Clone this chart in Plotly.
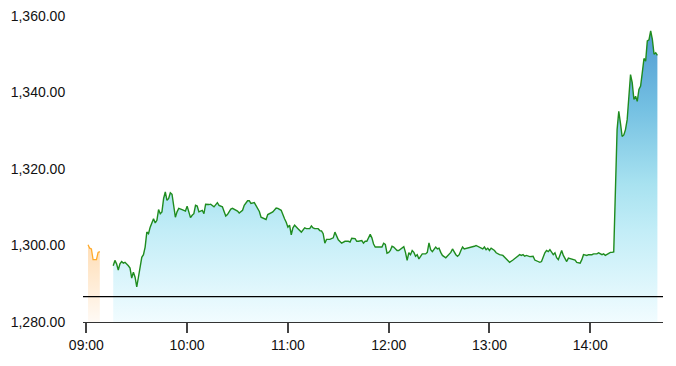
import plotly.graph_objects as go

DAY = "2024-01-02 "

# Pre-open (orange) segment
pre_times = ["09:01", "09:02", "09:03", "09:04", "09:05", "09:06", "09:07", "09:08"]
pre_prices = [1300.2, 1299.3, 1299.1, 1296.3, 1296.3, 1296.3, 1298.2, 1298.4]

# Main session (green) segment
times = [
    "09:16", "09:17", "09:18", "09:19", "09:20", "09:21", "09:22", "09:23", "09:25", "09:26",
    "09:27", "09:28", "09:29", "09:30", "09:31", "09:32", "09:33", "09:34", "09:35", "09:36",
    "09:37", "09:38", "09:39", "09:40", "09:41", "09:42", "09:43", "09:44", "09:45", "09:46",
    "09:47", "09:48", "09:49", "09:50", "09:51", "09:52", "09:53", "09:54", "09:55", "09:57",
    "09:59", "10:00", "10:01", "10:02", "10:03", "10:04", "10:05", "10:06", "10:07", "10:09",
    "10:10", "10:11", "10:13", "10:14", "10:16", "10:18", "10:19", "10:21", "10:22", "10:23",
    "10:24", "10:26", "10:27", "10:29", "10:30", "10:31", "10:33", "10:34", "10:36", "10:37",
    "10:38", "10:40", "10:41", "10:42", "10:43", "10:44", "10:45", "10:47", "10:48", "10:49",
    "10:51", "10:53", "10:54", "10:56", "10:57", "10:58", "10:59", "11:00", "11:01", "11:02",
    "11:03", "11:04", "11:06", "11:07", "11:08", "11:10", "11:11", "11:13", "11:14", "11:15",
    "11:16", "11:18", "11:19", "11:20", "11:21", "11:22", "11:23", "11:25", "11:26", "11:27",
    "11:28", "11:29", "11:30", "11:32", "11:33", "11:34", "11:36", "11:37", "11:38", "11:40",
    "11:41", "11:42", "11:44", "11:45", "11:46", "11:47", "11:49", "11:50", "11:51", "11:52",
    "11:54", "11:55", "11:56", "11:57", "11:58", "11:59", "12:00", "12:01", "12:02", "12:03",
    "12:05", "12:06", "12:07", "12:09", "12:10", "12:11", "12:12", "12:13", "12:14", "12:15",
    "12:16", "12:17", "12:18", "12:19", "12:20", "12:22", "12:23", "12:24", "12:25", "12:26",
    "12:27", "12:28", "12:29", "12:30", "12:31", "12:32", "12:34", "12:35", "12:36", "12:37",
    "12:38", "12:39", "12:40", "12:41", "12:42", "12:43", "12:44", "12:45", "12:47", "12:49",
    "12:51", "12:52", "12:54", "12:55", "12:56", "12:57", "12:58", "12:59", "13:00", "13:01",
    "13:03", "13:04", "13:06", "13:08", "13:09", "13:11", "13:12", "13:14", "13:15", "13:16",
    "13:18", "13:19", "13:20", "13:21", "13:22", "13:24", "13:26", "13:27", "13:29", "13:30",
    "13:31", "13:32", "13:33", "13:34", "13:35", "13:36", "13:37", "13:38", "13:39", "13:40",
    "13:41", "13:43", "13:44", "13:45", "13:46", "13:47", "13:49", "13:51", "13:52", "13:54",
    "13:55", "13:56", "13:58", "13:59", "14:01", "14:02", "14:04", "14:05", "14:07", "14:08",
    "14:09", "14:11", "14:12", "14:13", "14:14", "14:16", "14:17", "14:18", "14:19", "14:20",
    "14:21", "14:22", "14:23", "14:24", "14:25", "14:26", "14:27", "14:28", "14:29", "14:30",
    "14:31", "14:32", "14:33", "14:34", "14:35", "14:36", "14:37", "14:38", "14:39", "14:40",
]
prices = [
    1294.7, 1296.1, 1295.2, 1293.6, 1295.2, 1295.8, 1295.4, 1295.6, 1294.7, 1294.1,
    1291.5, 1293.0, 1291.7, 1289.2, 1291.7, 1294.7, 1296.9, 1297.6, 1299.6, 1303.5,
    1303.1, 1304.8, 1305.7, 1307.0, 1305.9, 1306.6, 1309.4, 1308.3, 1308.8, 1312.3,
    1314.0, 1311.8, 1312.3, 1313.8, 1313.4, 1310.5, 1307.4, 1308.8, 1309.7, 1309.4,
    1309.0, 1310.3, 1308.8, 1307.3, 1307.9, 1308.3, 1310.5, 1310.3, 1308.8, 1309.2,
    1308.3, 1310.8, 1310.7, 1310.8, 1310.1, 1311.2, 1310.5, 1310.1, 1308.9, 1307.7,
    1308.1, 1309.5, 1309.7, 1309.3, 1309.0, 1308.5, 1309.2, 1310.5, 1311.7, 1311.7,
    1311.0, 1311.2, 1310.3, 1309.7, 1308.9, 1307.4, 1307.2, 1306.8, 1308.1, 1308.3,
    1308.8, 1309.8, 1309.7, 1309.2, 1307.9, 1307.0, 1306.1, 1304.8, 1305.3, 1302.8,
    1304.6, 1305.3, 1304.4, 1303.9, 1303.5, 1304.6, 1304.4, 1304.4, 1305.1, 1304.6,
    1304.4, 1304.4, 1303.9, 1303.8, 1303.1, 1300.6, 1301.6, 1301.6, 1301.9, 1302.0,
    1303.5, 1302.6, 1301.5, 1300.6, 1300.9, 1301.1, 1301.1, 1300.9, 1301.9, 1301.8,
    1301.1, 1301.1, 1301.3, 1300.6, 1301.1, 1301.1, 1302.9, 1302.0, 1300.4, 1299.6,
    1299.6, 1299.7, 1299.6, 1300.6, 1300.3, 1298.0, 1298.2, 1298.7, 1299.8, 1299.6,
    1298.7, 1298.7, 1299.1, 1299.7, 1298.2, 1296.1, 1298.1, 1297.6, 1298.7, 1298.2,
    1297.2, 1297.6, 1296.5, 1297.2, 1297.8, 1297.8, 1298.2, 1300.7, 1298.9, 1298.4,
    1299.1, 1299.6, 1299.1, 1299.3, 1298.2, 1297.4, 1296.8, 1297.2, 1297.6, 1298.2,
    1299.1, 1298.2, 1297.6, 1297.2, 1297.6, 1298.7, 1299.6, 1299.1, 1299.3, 1299.6,
    1299.8, 1300.0, 1299.6, 1299.3, 1299.1, 1299.6, 1298.9, 1299.3, 1298.7, 1299.3,
    1298.7, 1298.1, 1297.6, 1297.4, 1296.9, 1296.1, 1295.6, 1296.2, 1296.5, 1296.9,
    1297.6, 1297.4, 1297.6, 1297.2, 1297.4, 1297.1, 1297.2, 1296.2, 1295.8, 1295.6,
    1295.8, 1297.2, 1298.1, 1298.7, 1298.4, 1298.9, 1298.2, 1297.6, 1298.1, 1296.8,
    1296.3, 1298.7, 1297.4, 1296.5, 1295.8, 1296.7, 1296.5, 1296.2, 1295.6, 1295.4,
    1296.3, 1297.6, 1297.4, 1297.6, 1297.6, 1297.8, 1297.8, 1298.1, 1297.6, 1297.8,
    1297.4, 1298.1, 1298.2, 1298.2, 1298.3, 1330.3, 1335.1, 1332.0, 1328.5, 1328.9,
    1330.3, 1332.9, 1339.0, 1344.7, 1342.6, 1338.2, 1339.0, 1337.7, 1340.8, 1341.7,
    1345.2, 1348.9, 1348.2, 1353.5, 1353.8, 1356.1, 1353.9, 1350.0, 1350.4, 1349.7,
]

ref_line = 1286.65
y_ticks = [1280, 1300, 1320, 1340, 1360]
x_ticks = ["09:00", "10:00", "11:00", "12:00", "13:00", "14:00"]
x_range = ["08:58", "14:43:20"]
y_range = [1280, 1360]

fig = go.Figure()

fig.add_trace(go.Scatter(
    x=[DAY + t for t in pre_times], y=pre_prices, mode="lines",
    line=dict(color="#ffaa2a", width=1.3),
    fill="tozeroy",
    fillgradient=dict(type="vertical", start=1280, stop=1301,
                      colorscale=[[0, "#fffaf5"], [1, "#ffdcb2"]]),
    hoverinfo="skip", showlegend=False,
))

fig.add_trace(go.Scatter(
    x=[DAY + t for t in times], y=prices, mode="lines",
    line=dict(color="#1f8c1f", width=1.4),
    fill="tozeroy",
    fillgradient=dict(type="vertical", start=1280, stop=1360,
                      colorscale=[[0, "#f1fcff"], [0.3, "#c2edf7"], [0.45, "#a8e2f0"],
                                  [0.7, "#74c0e2"], [1, "#4a94cf"]]),
    hoverinfo="skip", showlegend=False,
))

fig.add_shape(type="line", xref="paper", x0=0, x1=1, yref="y", y0=ref_line, y1=ref_line,
              line=dict(color="#000000", width=1.2))

fig.update_layout(
    width=676, height=366,
    margin=dict(l=83, r=13, t=16, b=44),
    paper_bgcolor="white", plot_bgcolor="white",
    font=dict(family="Liberation Sans, Arial, sans-serif", size=14, color="#111111"),
    xaxis=dict(
        type="date", automargin=False,
        range=[DAY + x_range[0], DAY + x_range[1]],
        tickvals=[DAY + t for t in x_ticks], ticktext=x_ticks,
        showgrid=False, zeroline=False,
        showline=True, linecolor="#333333", linewidth=1.2,
        ticks="outside", ticklen=10, tickcolor="#444444", tickwidth=1.5,
    ),
    yaxis=dict(
        range=y_range, automargin=False,
        tickvals=y_ticks, ticktext=[f"{v:,.2f}" for v in y_ticks],
        showgrid=False, zeroline=False, showline=False,
        ticks="outside", ticklen=14, tickcolor="rgba(0,0,0,0)",
    ),
)

fig.write_html("out.html")
